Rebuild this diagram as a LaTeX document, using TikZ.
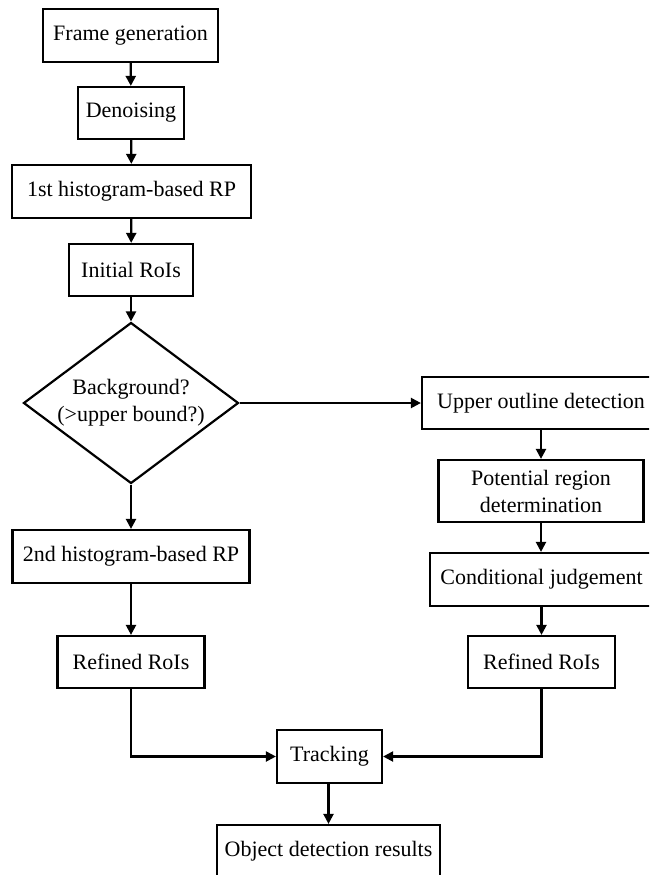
\documentclass[tikz,border=0pt]{standalone}
\usepackage{fontspec}
\setmainfont{Liberation Serif}
\usetikzlibrary{shapes.geometric,arrows.meta}
\begin{document}
\begin{tikzpicture}[x=1pt,y=-1pt,
  font=\fontsize{22}{27}\selectfont,
  box/.style={draw, line width=2.2pt, inner sep=0pt, align=center},
  dec/.style={draw, line width=2.2pt, diamond, inner sep=0pt, align=center, aspect=1.33},
  arr/.style={line width=2.2pt, -{Triangle[length=10pt,width=10pt]}},
  ln/.style={line width=2.2pt}]
\useasboundingbox (0,0) rectangle (649,875);
\clip (0,0) rectangle (649,875);
\node[box, minimum width=175pt, minimum height=53pt] (fg) at (130.5,35.5) {Frame generation};
\node[box, minimum width=106pt, minimum height=52pt] (dn) at (131,113) {Denoising};
\node[box, minimum width=239pt, minimum height=53pt] (h1) at (131.5,191.5) {1st histogram-based RP};
\node[box, minimum width=124pt, minimum height=52pt] (ir) at (131,270) {Initial RoIs};
\node[dec, minimum width=215pt, minimum height=161pt] (bg) at (131,403) {Background?\\(>upper bound?)};
\node[box, minimum width=237pt, minimum height=53pt] (h2) at (131,556.5) {2nd histogram-based RP};
\node[box, minimum width=147pt, minimum height=52pt] (rl) at (131,662) {Refined RoIs};
\node[box, minimum width=238pt, minimum height=52pt] (uo) at (541,403) {Upper outline detection};
\node[box, minimum width=205pt, minimum height=62pt] (pr) at (541,491) {Potential region\\determination};
\node[box, minimum width=223pt, minimum height=53pt] (cj) at (541.5,579.5) {Conditional judgement};
\node[box, minimum width=147pt, minimum height=52pt] (rr) at (541.5,662) {Refined RoIs};
\node[box, minimum width=105pt, minimum height=53pt] (tr) at (329.5,756.5) {Tracking};
\node[box, minimum width=223pt, minimum height=53pt] (od) at (328.5,851.5) {Object detection results};
\draw[arr] (fg) -- (dn);
\draw[arr] (dn) -- (h1);
\draw[arr] (h1) -- (ir);
\draw[arr] (ir) -- (bg);
\draw[arr] (bg.east) -- (uo.west);
\draw[arr] (bg.south) -- (h2.north);
\draw[arr] (h2) -- (rl);
\draw[arr] (uo.south -| pr.north) -- (pr.north);
\draw[arr] (pr.south) -- (pr.south |- cj.north);
\draw[arr] (cj.south -| rr.north) -- (rr.north);
\draw[arr] (rl.south) |- (tr.west);
\draw[arr] (rr.south) |- (tr.east);
\draw[arr] (tr.south -| od.north) -- (od.north);
\end{tikzpicture}
\end{document}
